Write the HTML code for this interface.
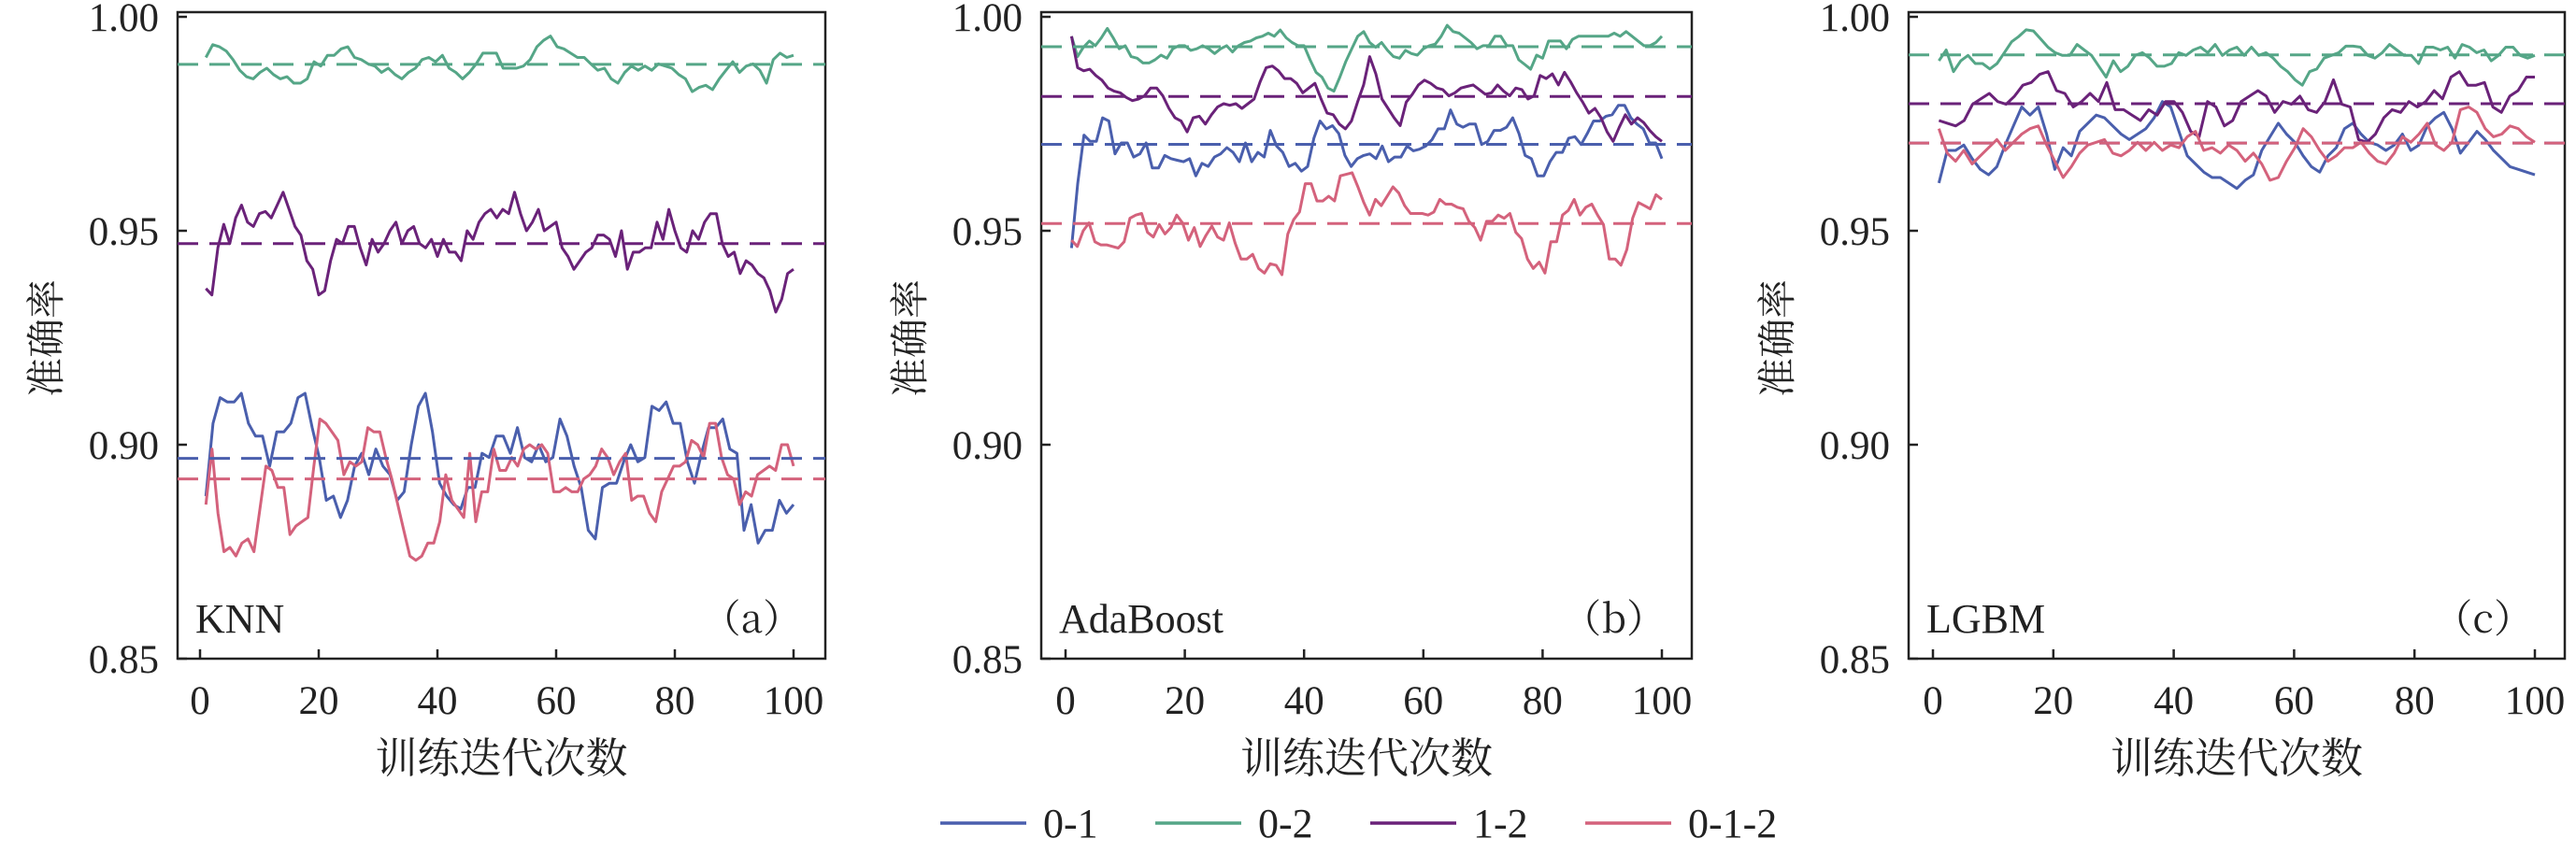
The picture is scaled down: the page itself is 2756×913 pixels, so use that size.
<!DOCTYPE html>
<html><head><meta charset="utf-8"><style>
html,body{margin:0;padding:0;background:#fff;}
svg{display:block;}
text{font-family:"Liberation Serif","Noto Serif CJK SC",serif;fill:#222;}
.cjk{font-family:"Noto Serif CJK SC","Noto Sans CJK SC",serif;}
</style></head><body>
<svg id="s" width="2756" height="913" viewBox="0 0 2756 913" xmlns="http://www.w3.org/2000/svg"></svg>
<script>
const NS="http://www.w3.org/2000/svg";
const svg=document.getElementById('s');
function el(t,a,txt){const e=document.createElementNS(NS,t);for(const k in a)e.setAttribute(k,a[k]);if(txt!==undefined)e.textContent=txt;svg.appendChild(e);return e;}
const C={b:"#4a5fad",g:"#55a687",p:"#6a2279",r:"#d4627c"};
const yv=v=>247-(v-0.95)*4580;
const TOP=13,BOT=705;
const panels=[
 {L:190,R:883,x0:214,x100:849,name:"KNN",tag:"（a）",
  means:{g:.9889,p:.947,b:.8968,r:.8920},
  data:{
  g:[.9905,.9935,.993,.992,.990,.9875,.986,.9855,.987,.988,.9865,.9855,.986,.9845,.9845,.9855,.9895,.9885,.991,.991,.9925,.993,.9905,.990,.989,.9885,.987,.988,.9865,.9855,.987,.988,.990,.9905,.9895,.991,.988,.987,.9855,.987,.989,.9915,.9915,.9915,.988,.988,.988,.9885,.990,.993,.9945,.9955,.993,.9925,.9915,.9905,.9905,.989,.9875,.988,.9855,.9845,.987,.9885,.9875,.9885,.9875,.989,.9885,.988,.9865,.9855,.9825,.9835,.984,.983,.9855,.9875,.9895,.987,.9885,.989,.9875,.9845,.990,.9915,.9905,.991]},
  raw:{
  p:[.9365,.935,.946,.9515,.947,.953,.956,.952,.951,.954,.9545,.953,.956,.959,.955,.951,.949,.943,.941,.935,.936,.943,.948,.947,.951,.951,.946,.942,.948,.945,.947,.950,.952,.947,.950,.951,.947,.946,.948,.944,.948,.945,.945,.943,.950,.948,.952,.954,.955,.953,.955,.954,.959,.954,.950,.952,.955,.950,.951,.952,.946,.944,.941,.943,.945,.946,.949,.949,.948,.944,.950,.941,.945,.945,.946,.946,.952,.948,.955,.950,.946,.945,.950,.948,.952,.954,.954,.947,.944,.945,.940,.943,.942,.940,.939,.936,.931,.934,.940,.941],
  b:[.888,.905,.911,.910,.910,.912,.905,.902,.902,.895,.903,.903,.905,.911,.912,.904,.897,.887,.888,.883,.887,.895,.898,.893,.899,.895,.893,.887,.889,.900,.909,.912,.903,.891,.888,.886,.885,.890,.890,.898,.897,.902,.902,.898,.904,.897,.896,.900,.896,.897,.906,.902,.895,.890,.880,.878,.890,.891,.891,.896,.900,.896,.897,.909,.908,.910,.905,.905,.896,.891,.898,.904,.904,.906,.899,.898,.880,.886,.877,.880,.880,.887,.884,.886],
  r:[.886,.899,.884,.875,.876,.874,.877,.878,.875,.885,.895,.894,.890,.890,.879,.881,.882,.883,.895,.906,.905,.903,.901,.893,.896,.895,.896,.904,.903,.903,.897,.892,.886,.880,.874,.873,.874,.877,.877,.882,.893,.887,.885,.883,.898,.882,.889,.889,.899,.894,.894,.897,.895,.899,.900,.899,.900,.898,.889,.889,.890,.889,.889,.892,.893,.895,.899,.897,.893,.896,.898,.887,.888,.888,.884,.882,.889,.892,.895,.895,.896,.901,.900,.897,.905,.905,.897,.893,.892,.886,.889,.888,.893,.894,.895,.894,.900,.900,.895]}},
 {L:1114,R:1810,x0:1140,x100:1778,name:"AdaBoost",tag:"（b）",conv:Y=>1-(Y-58)/13640,
  means:{g:.9930,p:.9814,b:.9702,r:.9517},
  Y:{
  g:[120,185,155,135,150,125,95,125,160,150,185,190,205,205,195,180,190,160,150,150,165,160,150,160,175,160,150,170,150,140,135,125,120,110,120,100,125,140,150,150,195,235,250,285,295,250,200,160,120,105,140,155,140,165,185,190,165,175,180,160,150,145,120,85,105,110,125,140,160,150,150,120,120,150,150,195,210,225,180,190,135,135,135,160,130,120,120,120,120,120,120,110,120,105,120,135,150,150,140,120],
  p:[120,220,230,225,245,260,285,295,300,315,325,320,310,285,285,310,350,380,390,425,380,375,400,370,345,335,340,335,350,335,320,265,220,215,230,255,255,270,300,285,270,320,365,370,400,415,390,330,275,185,240,320,350,380,405,330,305,275,260,270,285,290,310,300,285,280,275,290,305,300,275,295,310,285,290,320,310,245,255,240,275,235,265,300,330,365,350,380,425,455,410,370,400,380,395,420,440,455],
  b:[795,590,435,455,455,380,390,495,460,460,505,495,460,540,540,500,510,515,520,510,565,525,535,505,495,475,490,520,460,520,490,505,420,470,490,535,525,550,535,445,390,415,405,430,500,535,510,500,495,510,470,520,505,505,470,485,480,470,450,415,415,355,400,410,400,400,465,455,420,420,410,380,430,500,510,565,565,520,490,490,445,440,465,430,390,390,375,370,340,340,380,400,415,460,460,510],
  r:[770,790,740,715,775,785,785,790,795,775,700,690,685,745,760,720,750,730,690,715,770,730,790,755,725,760,770,715,780,830,830,815,860,875,845,850,880,750,705,680,590,590,645,645,630,645,565,560,555,600,650,690,640,660,630,600,620,660,685,685,685,690,680,640,655,655,665,670,710,730,770,710,710,690,700,685,745,765,830,860,840,875,775,775,690,675,640,690,665,655,690,720,830,830,850,800,700,650,660,670,625,640]}},
 {L:2042,R:2744,x0:2068,x100:2712,name:"LGBM",tag:"（c）",conv:Y=>0.95-(Y-418)/7880,
  means:{g:.9911,p:.9797,b:.9705,r:.9705},
  Y:{
  g:[105,85,125,105,95,110,110,120,110,90,70,60,48,50,65,80,90,95,95,75,85,95,115,135,105,125,115,95,90,100,115,115,110,90,95,85,80,90,75,95,85,80,95,80,95,90,100,115,125,140,150,125,120,100,95,90,78,78,80,95,100,90,75,85,95,95,110,80,80,85,80,100,75,80,90,85,105,95,80,80,95,100,95],
  p:[215,220,225,215,185,175,165,180,185,170,150,145,130,125,160,165,190,180,165,180,145,195,195,205,215,195,205,180,180,200,235,245,180,190,225,215,180,170,160,170,200,180,185,170,195,200,180,140,185,190,250,255,240,210,195,200,180,190,180,160,175,135,125,150,150,145,190,200,170,160,135,135],
  b:[330,270,270,260,285,305,315,300,260,225,190,205,190,240,305,265,280,235,220,205,210,225,240,250,240,230,210,180,190,235,280,295,310,320,320,330,340,325,315,270,245,220,240,255,280,300,310,280,265,230,220,240,255,260,270,260,240,270,260,225,210,200,230,275,255,235,250,270,285,300,305,310,315],
  r:[230,275,290,270,295,280,265,250,270,255,240,230,225,260,290,320,300,275,260,255,250,275,280,270,255,270,255,270,260,265,245,235,270,265,275,260,270,290,275,295,325,320,290,265,230,245,270,290,280,265,265,255,275,290,295,275,245,255,240,220,260,270,255,195,190,200,230,245,240,225,230,245,255]}}
];
panels.forEach(P=>{
  const xs=i=>P.x0+(P.x100-P.x0)*i/100;
  // axes box
  el('rect',{x:P.L,y:TOP,width:P.R-P.L,height:BOT-TOP,fill:'none',stroke:'#222','stroke-width':2.5});
  [0,20,40,60,80,100].forEach(t=>{const x=xs(t);
    el('line',{x1:x,y1:BOT,x2:x,y2:BOT-10,stroke:'#222','stroke-width':2.5});
    el('text',{x:x,y:764,'font-size':43,'text-anchor':'middle'},String(t));});
  [[.85,'0.85'],[.90,'0.90'],[.95,'0.95'],[1.0,'1.00']].forEach(([v,s])=>{const y=yv(v);
    el('line',{x1:P.L,y1:y,x2:P.L+10,y2:y,stroke:'#222','stroke-width':2.5});
    el('text',{x:P.L-20,y:y+15,'font-size':43,'text-anchor':'end'},s);});
  const ta=el('text',{x:0,y:0,'font-size':42,'text-anchor':'middle',class:'cjk',transform:`translate(${P.L-126},362) rotate(-90)`},'准确率');
  el('text',{x:(P.L+P.R)/2,y:827,'font-size':45,'text-anchor':'middle',class:'cjk'},'训练迭代次数');
  el('text',{x:P.L+19,y:677,'font-size':44},P.name);
  el('text',{x:P.L+668,y:677,'font-size':42,'text-anchor':'end',class:'cjk'},P.tag);
  // series
  ['b','g','p','r'].forEach(k=>{
    let vals;
    if(P.data&&P.data[k])vals=P.data[k];
    else if(P.raw&&P.raw[k])vals=P.raw[k];
    else vals=P.Y[k].map(P.conv);
    const n=vals.length;
    const pts=vals.map((v,i)=>{const it=1+99*i/(n-1);return xs(it).toFixed(1)+','+yv(v).toFixed(1);});
    el('polyline',{points:pts.join(' '),fill:'none',stroke:C[k],'stroke-width':3,'stroke-linejoin':'round'});
  });
  ['b','g','p','r'].forEach(k=>{const y=yv(P.means[k]);
    el('line',{x1:P.L,y1:y,x2:P.R,y2:y,stroke:C[k],'stroke-width':3,'stroke-dasharray':'22 12'});});
});
// legend
[[1006,'b','0-1'],[1236,'g','0-2'],[1466,'p','1-2'],[1696,'r','0-1-2']].forEach(([x,k,s])=>{
  el('line',{x1:x,y1:881,x2:x+92,y2:881,stroke:C[k],'stroke-width':3.5});
  el('text',{x:x+110,y:896,'font-size':44},s);
});
</script>
</body></html>
